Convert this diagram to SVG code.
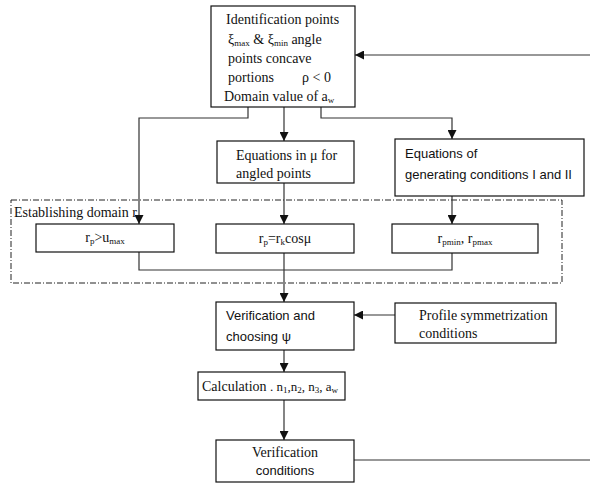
<svg xmlns="http://www.w3.org/2000/svg" width="590" height="485" viewBox="0 0 590 485">
  <defs>
    <marker id="arrow" viewBox="0 0 10 10" refX="10" refY="5" markerWidth="9" markerHeight="9" markerUnits="userSpaceOnUse" orient="auto">
      <path d="M0,0 L10,5 L0,10 Z" fill="#111"/>
    </marker>
    <style>
      .box { fill: #fff; stroke: #111; stroke-width: 1.2; }
      .serif { font-family: "Liberation Serif", "Times New Roman", serif; font-size: 14px; fill: #111; }
      .sans { font-family: "Liberation Sans", Arial, sans-serif; font-size: 13px; fill: #111; }
      .sub { font-size: 9px; }
      .wire { fill: none; stroke: #333; stroke-width: 1.2; }
      .arr { marker-end: url(#arrow); }
      .frame { fill: none; stroke: #222; stroke-width: 1; stroke-dasharray: 6 2 1 2; }
    </style>
  </defs>
  <rect width="590" height="485" fill="#fff"/>

  <!-- dash-dot frame around the domain step -->
  <g id="domain-frame">
    <rect class="frame" x="11" y="200" width="551" height="83"/>
    <text class="serif" x="14" y="217">Establishing domain  r</text>
  </g>

  <g id="connectors">
    <path class="wire" d="M590,55 H355" marker-end="url(#arrow)"/>
    <path class="wire arr" d="M248,107 V118 H139 V224"/>
    <path class="wire arr" d="M284,107 V141"/>
    <path class="wire arr" d="M321,107 V118 H452 V139"/>
    <path class="wire arr" d="M284,183 V224"/>
    <path class="wire arr" d="M452,196 V224"/>
    <path class="wire" d="M139,252 V270 H452 V253"/>
    <path class="wire arr" d="M284,253 V302"/>
    <path class="wire arr" d="M395,315 H354"/>
    <path class="wire arr" d="M284,350 V372"/>
    <path class="wire arr" d="M284,400 V440"/>
    <path class="wire" d="M354,460 H590"/>
  </g>

  <g id="identification">
    <rect class="box" x="211" y="6" width="144" height="101"/>
    <text class="serif" x="226" y="24">Identification points</text>
    <text class="serif" x="228" y="44">ξ<tspan class="sub" dy="2">max</tspan><tspan dy="-2"> &amp; ξ</tspan><tspan class="sub" dy="2">min</tspan><tspan dy="-2">  angle</tspan></text>
    <text class="serif" x="228" y="63">points concave</text>
    <text class="serif" x="228" y="82">portions</text>
    <text class="serif" x="302" y="82">ρ &lt; 0</text>
    <text class="serif" x="224" y="101">Domain value of a<tspan class="sub" dy="2">w</tspan></text>
  </g>

  <g id="angled-points">
    <rect class="box" x="217" y="141" width="137" height="42"/>
    <text class="serif" x="236" y="160">Equations in μ for</text>
    <text class="serif" x="236" y="178">angled points</text>
  </g>

  <g id="generating-conditions">
    <rect class="box" x="395" y="139" width="189" height="57"/>
    <text class="sans" x="405" y="158">Equations of</text>
    <text class="sans" x="405" y="179">generating conditions I and II</text>
  </g>

  <g id="rp-umax">
    <rect class="box" x="36" y="224" width="138" height="28"/>
    <text class="serif" x="105" y="242" text-anchor="middle" font-size="13">r<tspan class="sub" dy="2">p</tspan><tspan dy="-2">&gt;u</tspan><tspan class="sub" dy="2">max</tspan></text>
  </g>

  <g id="rp-rk-cos">
    <rect class="box" x="216" y="224" width="138" height="29"/>
    <text class="serif" x="285" y="243" text-anchor="middle">r<tspan class="sub" dy="2">p</tspan><tspan dy="-2">=r</tspan><tspan class="sub" dy="2">k</tspan><tspan dy="-2">cosμ</tspan></text>
  </g>

  <g id="rp-range">
    <rect class="box" x="392" y="224" width="146" height="29"/>
    <text class="serif" x="465" y="243" text-anchor="middle" font-size="12">r<tspan class="sub" dy="2">pmin</tspan><tspan dy="-2">, r</tspan><tspan class="sub" dy="2">pmax</tspan></text>
  </g>

  <g id="choosing-psi">
    <rect class="box" x="216" y="302" width="138" height="48"/>
    <text class="sans" x="226" y="320" font-size="14">Verification and</text>
    <text class="sans" x="226" y="341" font-size="14">choosing ψ</text>
  </g>

  <g id="symmetrization">
    <rect class="box" x="395" y="303" width="161" height="40"/>
    <text class="serif" x="419" y="320">Profile symmetrization</text>
    <text class="serif" x="419" y="338">conditions</text>
  </g>

  <g id="calculation">
    <rect class="box" x="198" y="372" width="147" height="28"/>
    <text class="serif" x="202" y="391">Calculation <tspan font-size="13">. n</tspan><tspan class="sub" dy="2">1</tspan><tspan dy="-2" font-size="13">,n</tspan><tspan class="sub" dy="2">2</tspan><tspan dy="-2" font-size="13">, n</tspan><tspan class="sub" dy="2">3</tspan><tspan dy="-2" font-size="13">, a</tspan><tspan class="sub" dy="2">w</tspan></text>
  </g>

  <g id="verification">
    <rect class="box" x="216" y="440" width="138" height="42"/>
    <text class="serif" x="285" y="457" text-anchor="middle">Verification</text>
    <text class="sans" x="285" y="475" text-anchor="middle" font-size="14">conditions</text>
  </g>
</svg>
